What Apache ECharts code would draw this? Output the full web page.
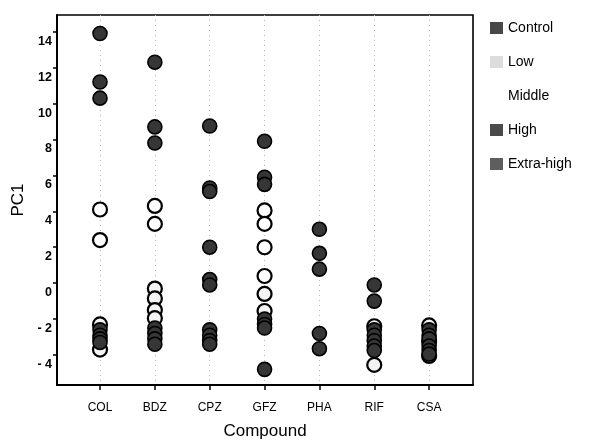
<!DOCTYPE html>
<html>
<head>
<meta charset="utf-8">
<script src="https://cdn.jsdelivr.net/npm/echarts@6/dist/echarts.min.js"></script>
<style>html,body{margin:0;padding:0;background:#fff}#c{width:606px;height:442px}</style>
</head>
<body>
<div id="c"></div>
<script>
const categories = ['COL', 'BDZ', 'CPZ', 'GFZ', 'PHA', 'RIF', 'CSA'];
const yTicks = [-4, -2, 0, 2, 4, 6, 8, 10, 12, 14];
const seriesNames = ['Control', 'Low', 'Middle', 'High', 'Extra-high'];
// values per compound (same order as categories)
const controlValues = [
  [-2.6, -2.9, -3.1, -3.3],
  [-2.5, -2.8, -3.1, -3.4],
  [-2.6, -2.9, -3.2, -3.4],
  [-2.0, -2.3, -2.5],
  [-2.8, -3.65],
  [-2.6, -2.9, -3.2, -3.5, -3.75],
  [-2.6, -2.9, -3.1, -3.5, -3.75, -3.95]
];
const lowValues = [
  [-2.3, -3.7],
  [-0.3, -0.85, -1.5, -1.95],
  [],
  [-0.6, -1.55],
  [],
  [-2.4, -4.55],
  [-2.35, -3.25, -4.05]
];
const middleValues = [
  [4.1, 2.4],
  [4.3, 3.3],
  [],
  [4.05, 3.3, 2.0, 0.4],
  [],
  [],
  []
];
const highValues = [
  [10.3, 11.2],
  [7.8, 8.7],
  [2.0, 0.2, -0.1],
  [5.9, 5.5, -4.8],
  [0.78, 1.66],
  [-0.1, -1.0],
  []
];
const extraHighValues = [
  [13.9],
  [12.3],
  [8.75, 5.3, 5.1],
  [7.9],
  [3.0],
  [],
  []
];

function toPoints(arr) {
  const out = [];
  arr.forEach((vals, i) => vals.forEach(v => out.push([i + 1, v])));
  return out;
}

const darkStyle = { color: '#363636', borderColor: '#000', borderWidth: 1.6, opacity: 1 };
const openStyle = { color: '#ffffff', borderColor: '#000', borderWidth: 2.2, opacity: 1 };
const lowStyle = { color: '#f4f4f4', borderColor: '#000', borderWidth: 2.2, opacity: 1 };

function sc(name, data, style) {
  return {
    name: name, type: 'scatter', symbol: 'circle', symbolSize: 14,
    data: toPoints(data), itemStyle: style,
    emphasis: { disabled: true }
  };
}

const chart = echarts.init(document.getElementById('c'), null, { renderer: 'canvas' });
const font = 'Liberation Sans, Arial, sans-serif';
chart.setOption({
  animation: false,
  backgroundColor: '#fff',
  textStyle: { fontFamily: font },
  grid: { left: 57, top: 15, right: 133, bottom: 57, outerBoundsMode: 'none', containLabel: false, show: true, borderColor: '#000', borderWidth: 1.6, backgroundColor: 'transparent' },
  legend: {
    orient: 'vertical', left: 485, top: 16, itemWidth: 13, itemHeight: 12, itemGap: 20,
    icon: 'rect',
    data: [
      { name: 'Control', itemStyle: { color: '#484848', borderWidth: 0, opacity: 1 } },
      { name: 'Low', itemStyle: { color: '#dcdcdc', borderWidth: 0, opacity: 1 } },
      { name: 'Middle', itemStyle: { color: '#ffffff', borderWidth: 0, opacity: 1 } },
      { name: 'High', itemStyle: { color: '#4a4a4a', borderWidth: 0, opacity: 1 } },
      { name: 'Extra-high', itemStyle: { color: '#5e5e5e', borderWidth: 0, opacity: 1 } }
    ],
    textStyle: { color: '#000', fontSize: 14, fontFamily: font },
    selectedMode: false
  },
  xAxis: {
    type: 'value', min: 0.216, max: 7.8,
    name: 'Compound', nameLocation: 'middle', nameGap: 38,
    nameTextStyle: { color: '#000', fontSize: 17, fontFamily: font },
    axisLine: { show: true, onZero: false, lineStyle: { color: '#000', width: 2 } },
    axisTick: { show: true, customValues: [1, 2, 3, 4, 5, 6, 7], length: 5, lineStyle: { color: '#000', width: 1.5 } },
    axisLabel: { customValues: [1, 2, 3, 4, 5, 6, 7], formatter: v => categories[Math.round(v) - 1] || '', color: '#000', fontSize: 12, margin: 17, fontFamily: font },
    splitLine: { show: true, lineStyle: { color: '#b8b8b8', type: [1, 4], width: 1 } }
  },
  yAxis: {
    type: 'value', min: -5.67, max: 14.93,
    name: 'PC1', nameLocation: 'middle', nameGap: 30, nameRotate: 90,
    nameTextStyle: { color: '#000', fontSize: 17, fontFamily: font },
    axisLine: { show: true, onZero: false, lineStyle: { color: '#000', width: 2 } },
    axisTick: { show: true, customValues: yTicks, length: 4, lineStyle: { color: '#000', width: 1.5 } },
    axisLabel: { customValues: yTicks, formatter: v => (v < 0 ? '- ' + Math.abs(v) : String(v)), color: '#000', fontSize: 12.5, fontWeight: 'bold', margin: 5, verticalAlign: 'top', padding: [3, 0, 0, 0], fontFamily: font },
    splitLine: { show: false }
  },
  series: [
    sc('Low', lowValues, lowStyle),
    sc('Middle', middleValues, openStyle),
    sc('Control', controlValues, darkStyle),
    sc('High', highValues, darkStyle),
    sc('Extra-high', extraHighValues, darkStyle)
  ]
});
</script>
</body>
</html>
